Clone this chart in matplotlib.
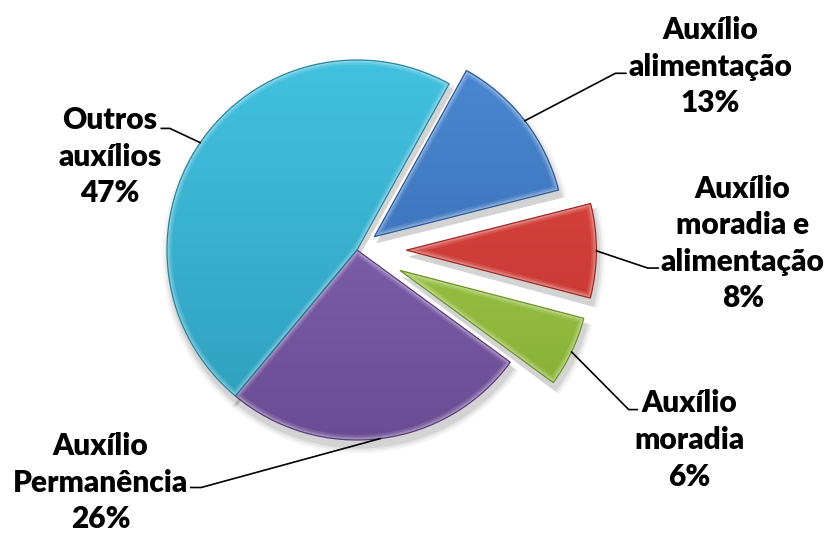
import numpy as np
import matplotlib.pyplot as plt
from matplotlib.patches import Wedge
from matplotlib.colors import to_rgb

labels = ["Auxílio\nalimentação", "Auxílio\nmoradia e\nalimentação",
          "Auxílio\nmoradia", "Auxílio\nPermanência", "Outros\nauxílios"]
shares = [13, 8, 6, 26, 47]
explode = [0.115, 0.26, 0.25, 0, 0]
top_colors = ["#4d8ad4", "#e24b45", "#acd454", "#8c6cbb", "#43c2e0"]
bottom_colors = ["#3064aa", "#bd302b", "#7fa92f", "#6a4b93", "#2d9dbb"]
edge_colors = ["#2b5a96", "#9e2823", "#6d9225", "#573c7c", "#24869f"]

# label centre (data units) and elbow of the leader line
label_xy = [(1.86, 0.965), (2.03, 0.035), (1.75, -1.0), (-1.35, -1.225),
            (-1.3, 0.49)]
elbow_xy = [(1.36, 0.93), (1.53, -0.095), (1.43, -0.84), (-0.82, -1.25),
            (-0.985, 0.64)]
tail = [0.055, 0.055, 0.045, -0.055, -0.045]

fig = plt.figure(figsize=(8.31, 5.33), dpi=100)
ax = fig.add_axes([0, 0, 1, 1])
ax.set_xlim(-357 / 190, (831 - 357) / 190)
ax.set_ylim(-(533 - 250) / 190, 250 / 190)
ax.axis("off")

wedges, _ = ax.pie(shares, explode=explode, startangle=61, counterclock=False,
                   radius=1, wedgeprops=dict(linewidth=0))

# soft drop shadow under each slice
for w in wedges:
    for k, a in zip([0.035, 0.022, 0.01], [0.04, 0.06, 0.08]):
        sh = Wedge((w.center[0] + 0.01, w.center[1] - 0.035), w.r + k,
                   w.theta1 - 0.5, w.theta2 + 0.5, facecolor="#000000",
                   alpha=a, linewidth=0, zorder=0)
        ax.add_patch(sh)

# vertical gradient fill plus a light bevel along the edges
for w, c_top, c_bot, c_edge in zip(wedges, top_colors, bottom_colors,
                                   edge_colors):
    w.set_zorder(1)
    t = np.linspace(0, 1, 200)[:, None]
    grad = (1 - t) * np.array(to_rgb(c_top)) + t * np.array(to_rgb(c_bot))
    grad = grad[:, None, :]
    cx, cy = w.center
    im = ax.imshow(grad, extent=(cx - 1.05, cx + 1.05, cy - 1.05, cy + 1.05),
                   aspect="auto", zorder=2, interpolation="bilinear")
    im.set_clip_path(w)
    for lw, a in [(7, 0.12), (4, 0.18), (2, 0.22)]:
        bev = Wedge(w.center, w.r, w.theta1, w.theta2, fill=False,
                    edgecolor="white", linewidth=lw, alpha=a, zorder=3)
        ax.add_patch(bev)
        bev.set_clip_path(w)
    ax.add_patch(Wedge(w.center, w.r, w.theta1, w.theta2, fill=False,
                       edgecolor=c_edge, linewidth=0.9, zorder=4))

ax.set_xlim(-357 / 190, (831 - 357) / 190)
ax.set_ylim(-(533 - 250) / 190, 250 / 190)

for w, lab, pct, (lx, ly), (ex, ey), tl in zip(wedges, labels, shares,
                                               label_xy, elbow_xy, tail):
    mid = np.deg2rad((w.theta1 + w.theta2) / 2)
    px = w.center[0] + w.r * np.cos(mid)
    py = w.center[1] + w.r * np.sin(mid)
    ax.plot([px, ex, ex + tl], [py, ey, ey], color="black", lw=1.2, zorder=5)
    ax.text(lx, ly, f"{lab}\n{pct}%", ha="center", va="center",
            fontsize=21.5, fontweight="heavy", family="Lato",
            linespacing=1.37, zorder=6)

fig.savefig("out.png", dpi=100)
